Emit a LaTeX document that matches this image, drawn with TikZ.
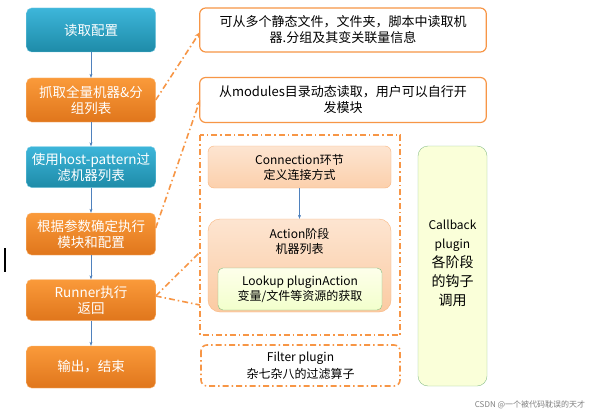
\documentclass[tikz,border=0pt]{standalone}
\usepackage{fontspec}
\setmainfont{Noto Sans CJK SC}
\usetikzlibrary{arrows.meta}
\definecolor{tealA}{HTML}{3DB6DA}
\definecolor{tealB}{HTML}{1E8BA8}
\definecolor{orA}{HTML}{FA9A3A}
\definecolor{orB}{HTML}{E0761C}
\definecolor{orL}{HTML}{F79646}
\definecolor{blueL}{HTML}{4F81BD}
\tikzset{
 x=1pt,y=-1pt,
 lbox/.style={rounded corners=5pt,minimum width=129pt,text width=125pt,align=center,text=white,font=\fontsize{13.5}{16}\selectfont,inner sep=1pt},
 tealbox/.style={lbox,top color=tealA,bottom color=tealB,draw=tealA!70!white},
 orbox/.style={lbox,top color=orA,bottom color=orB,draw=orA!70!white},
 wbox/.style={rounded corners=6pt,draw=orL,line width=1.2pt,fill=white,align=center,font=\fontsize{13}{16}\selectfont},
 flow/.style={draw=blueL,-{Stealth[length=4pt]}},
 dd/.style={draw=orL,line width=1.6pt,dash pattern=on 6pt off 3pt on 1.5pt off 3pt},
 inner/.style={align=center,font=\fontsize{12}{15}\selectfont},
}
\begin{document}
\begin{tikzpicture}
\useasboundingbox (0,0) rectangle (613,420);
\fill[white] (0,0) rectangle (613,420);
\node[tealbox,minimum height=44pt] (b1) at (91,30) {读取配置};
\node[orbox,minimum height=44pt] (b2) at (91,100) {抓取全量机器\&分\\组列表};
\node[tealbox,minimum height=41pt] (b3) at (91,167) {使用host-pattern过\\滤机器列表};
\node[orbox,minimum height=42pt] (b4) at (91,234) {根据参数确定执行\\模块和配置};
\node[orbox,minimum height=41pt] (b5) at (91,300) {Runner执行\\返回};
\node[orbox,minimum height=42pt] (b6) at (91,367) {输出，结束};
\draw[flow] (b1) -- (b2);
\draw[flow] (b2) -- (b3);
\draw[flow] (b3) -- (b4);
\draw[flow] (b4) -- (b5);
\draw[flow] (b5) -- (b6);
\node[wbox,minimum width=286pt,minimum height=44pt,text width=280pt] (r1) at (343,30) {可从多个静态文件，文件夹，脚本中读取机\\器.分组及其变关联量信息};
\node[wbox,minimum width=286pt,minimum height=45pt,text width=280pt] (r2) at (343,100) {从modules目录动态读取，用户可以自行开\\发模块};
\draw[dd] (200,135) rectangle (400,335);
\node[inner,rounded corners=6pt,draw=orL!70!white,top color=orL!25!white,bottom color=orL!45!white,minimum width=183pt,minimum height=42pt] (cn) at (299.5,167) {Connection环节\\定义连接方式};
\node[rounded corners=12pt,draw=orL!70!white,top color=orL!25!white,bottom color=orL!50!white,minimum width=183pt,minimum height=93pt] (ac) at (299.5,265.5) {};
\node[inner] (act) at (299.5,241) {Action阶段\\机器列表};
\node[inner,rounded corners=5pt,draw=green!50!black!50,top color=green!5!yellow!8!white,bottom color=green!25!yellow!20!white,minimum width=164pt,minimum height=42pt] (lk) at (300,289) {Lookup pluginAction\\变量/文件等资源的获取};
\draw[flow] (cn) -- (ac);
\draw[dd,rounded corners=6pt] (201,345) rectangle (400,386);
\node[inner,font=\fontsize{12}{17}\selectfont] (fl) at (300.5,365.5) {Filter plugin\\杂七杂八的过滤算子};
\node[rounded corners=10pt,draw=green!45!black!45,fill=green!12!yellow!15!white,minimum width=69pt,minimum height=240pt] (cb) at (452.5,266) {};
\node[align=center,font=\fontsize{12}{19}\selectfont] (cbt) at (452.5,263) {Callback\\plugin\\{\fontsize{14}{19}\selectfont 各阶段}\\{\fontsize{14}{19}\selectfont 的钩子}\\{\fontsize{14}{19}\selectfont 调用}};
\coordinate (a1) at (200,32);
\coordinate (a2) at (200,100);
\coordinate (a3) at (200,252);
\coordinate (a4) at (200,305);
\draw[dd,-{Stealth[length=6pt]}] (b2.east) -- (a1);
\draw[dd,-{Stealth[length=6pt]}] (b4.east) ++(0,-6) -- (a2);
\draw[dd] (b5.east) ++(0,-4) -- (a3);
\draw[dd] (b5.east) ++(0,-4) -- (a4);
\fill[black] (4,248) rectangle (6,272);
\node[text=gray,font=\fontsize{8}{9}\selectfont] (wm) at (530,405) {CSDN @一个被代码耽误的天才};
\end{tikzpicture}
\end{document}
